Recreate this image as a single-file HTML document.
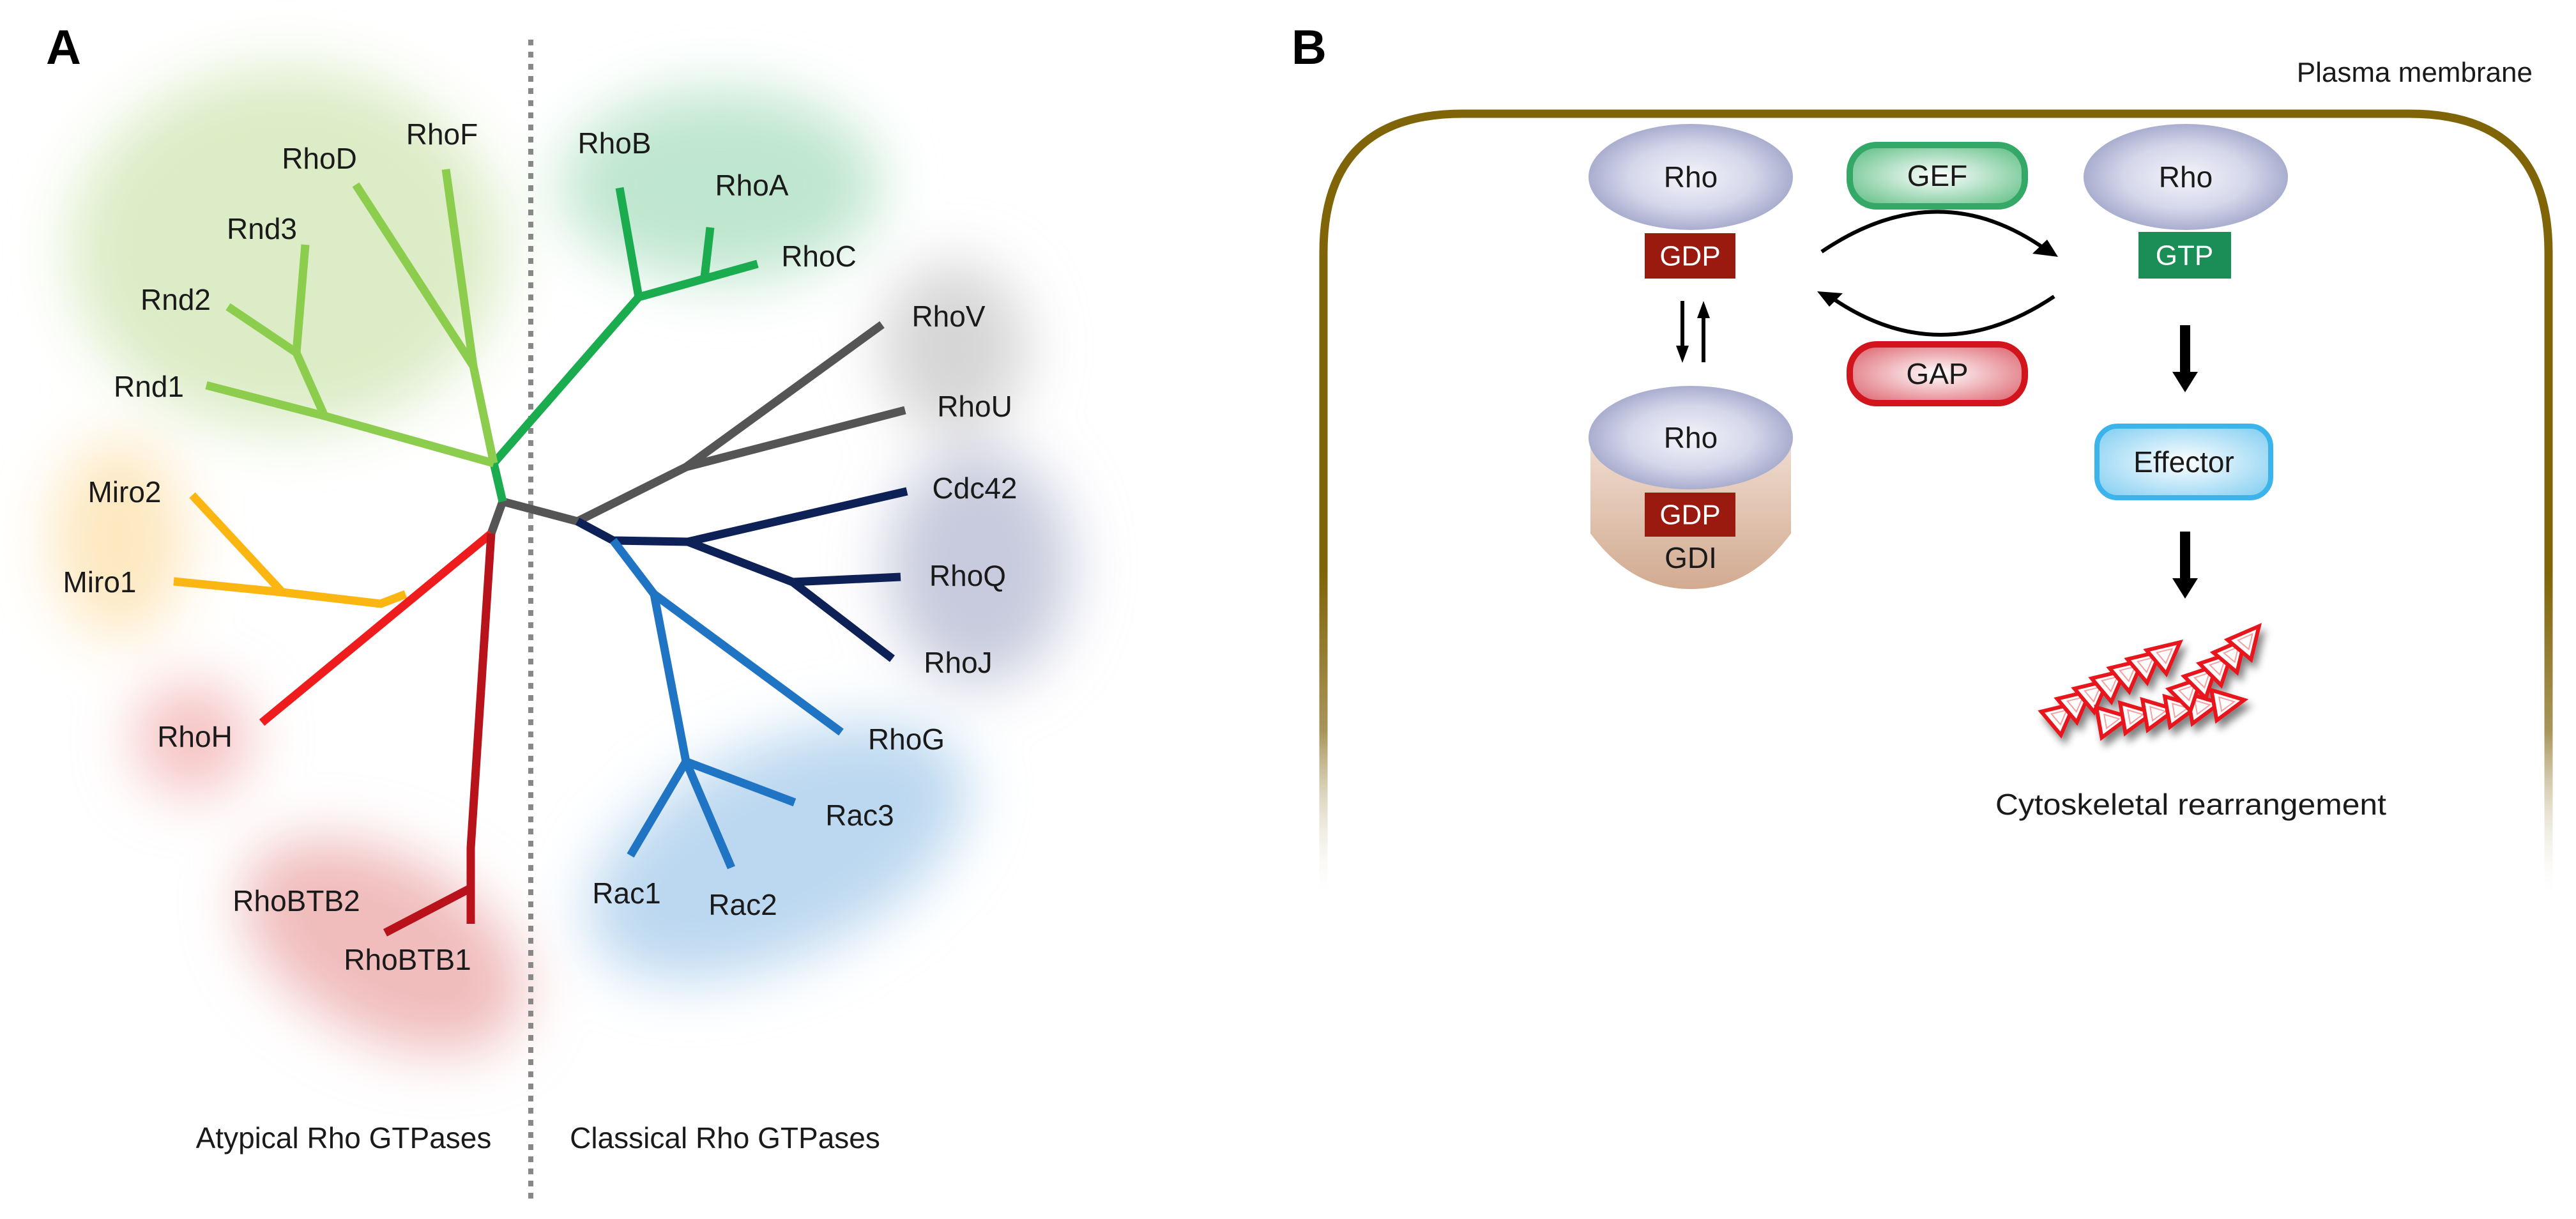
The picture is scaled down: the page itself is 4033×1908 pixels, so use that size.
<!DOCTYPE html>
<html><head><meta charset="utf-8"><style>
html,body{margin:0;padding:0;background:#fff}
svg{display:block}
text{font-family:"Liberation Sans",Arial,sans-serif}
</style></head><body>
<svg width="4033" height="1908" viewBox="0 0 4033 1908" xmlns="http://www.w3.org/2000/svg">
<defs>
<filter id="blur" x="-50%" y="-50%" width="200%" height="200%"><feGaussianBlur stdDeviation="45"/></filter>
<filter id="sh" x="-20%" y="-20%" width="140%" height="160%"><feGaussianBlur in="SourceAlpha" stdDeviation="6"/><feOffset dx="6" dy="10"/><feComponentTransfer><feFuncA type="linear" slope="0.5"/></feComponentTransfer><feMerge><feMergeNode/><feMergeNode in="SourceGraphic"/></feMerge></filter>
<linearGradient id="mem" x1="0" y1="0" x2="0" y2="1908" gradientUnits="userSpaceOnUse">
<stop offset="0" stop-color="#7f6508"/><stop offset="0.47" stop-color="#7f6508"/><stop offset="0.6" stop-color="#a8955a"/><stop offset="0.74" stop-color="#fff" stop-opacity="0"/></linearGradient>
<radialGradient id="rho" cx="0.5" cy="0.5" r="0.5"><stop offset="0" stop-color="#f4f4fa"/><stop offset="0.6" stop-color="#d5d7ea"/><stop offset="1" stop-color="#a9aecf"/></radialGradient>
<radialGradient id="gef" cx="0.5" cy="0.5" r="0.6"><stop offset="0" stop-color="#ffffff"/><stop offset="1" stop-color="#6cc48f"/></radialGradient>
<radialGradient id="gap" cx="0.5" cy="0.5" r="0.6"><stop offset="0" stop-color="#ffffff"/><stop offset="1" stop-color="#e0707a"/></radialGradient>
<radialGradient id="eff" cx="0.5" cy="0.5" r="0.6"><stop offset="0" stop-color="#ffffff"/><stop offset="1" stop-color="#8fd3f3"/></radialGradient>
<linearGradient id="gdi" x1="0" y1="0" x2="0" y2="1"><stop offset="0" stop-color="#efdcd0"/><stop offset="1" stop-color="#d2aa90"/></linearGradient>
<g id="tri"><polygon points="-22,-24 26,0 -22,24" fill="#fff" stroke="#e8141c" stroke-width="6" stroke-linejoin="miter"/><polygon points="-12,-11 10,0 -12,11" fill="none" stroke="#f6a0a0" stroke-width="2"/></g>
</defs>

<!-- Panel A blobs -->
<g filter="url(#blur)">
<ellipse cx="449" cy="391" rx="340" ry="285" fill="#dcecc6"/>
<ellipse cx="1128" cy="290" rx="250" ry="150" fill="#bfe6cf"/>
<ellipse cx="1493" cy="545" rx="115" ry="135" fill="#d6d6d6"/>
<ellipse cx="1532" cy="887" rx="145" ry="185" fill="#c8cbdd"/>
<ellipse cx="1218" cy="1333" rx="320" ry="165" fill="#bcd8f0" transform="rotate(-25 1218 1333)"/>
<ellipse cx="186" cy="844" rx="105" ry="155" fill="#fde8c0"/>
<ellipse cx="301" cy="1156" rx="92" ry="88" fill="#f6c2c2"/>
<ellipse cx="600" cy="1480" rx="240" ry="140" fill="#f0bcbc" transform="rotate(28 600 1480)"/>
</g>

<!-- dotted divider -->
<line x1="831" y1="62" x2="831" y2="1880" stroke="#888" stroke-width="8" stroke-dasharray="9,10"/>

<!-- tree -->
<g fill="none" stroke-width="13" stroke-linecap="butt" stroke-linejoin="round">
<polyline stroke="#555" points="769,835 787,785 904,816 1074,731 1381,508"/>
<line stroke="#555" x1="1074" y1="731" x2="1417" y2="642"/>
<polyline stroke="#1aac4e" points="787,785 773,725 1000,465 970,294"/>
<polyline stroke="#1aac4e" points="1000,465 1186,413"/>
<polyline stroke="#1aac4e" points="1103,434 1112,356"/>
<polyline stroke="#8dcd4e" points="773,725 741,573 698,265"/>
<line stroke="#8dcd4e" x1="741" y1="573" x2="557" y2="289"/>
<polyline stroke="#8dcd4e" points="773,725 508,651 323,603"/>
<polyline stroke="#8dcd4e" points="508,651 464,552 478,383"/>
<line stroke="#8dcd4e" x1="464" y1="552" x2="357" y2="480"/>
<polyline stroke="#fbb612" points="635,930 596,945 442,927 301,775"/>
<line stroke="#fbb612" x1="442" y1="927" x2="272" y2="910"/>
<line stroke="#ee1c1c" x1="769" y1="835" x2="410" y2="1131"/>
<polyline stroke="#b8121b" points="769,835 737,1327 737,1446"/>
<line stroke="#b8121b" x1="737" y1="1390" x2="603" y2="1460"/>
<polyline stroke="#0d2157" points="904,816 960,846 1077,848 1420,769"/>
<polyline stroke="#0d2157" points="1077,848 1241,911 1410,903"/>
<line stroke="#0d2157" x1="1241" y1="911" x2="1397" y2="1031"/>
<polyline stroke="#1f74c4" points="960,846 1024,930 1317,1146"/>
<polyline stroke="#1f74c4" points="1024,930 1074,1192 1244,1256"/>
<polyline stroke="#1f74c4" points="987,1339 1074,1192 1145,1358"/>
</g>

<g font-size="46" fill="#1a1a1a" text-anchor="middle" dominant-baseline="central">
<text x="692" y="210">RhoF</text>
<text x="500" y="248">RhoD</text>
<text x="410" y="358">Rnd3</text>
<text x="275" y="469">Rnd2</text>
<text x="233" y="605">Rnd1</text>
<text x="195" y="770">Miro2</text>
<text x="156" y="911">Miro1</text>
<text x="305" y="1153">RhoH</text>
<text x="464" y="1410">RhoBTB2</text>
<text x="638" y="1502">RhoBTB1</text>
<text x="962" y="224">RhoB</text>
<text x="1177" y="290">RhoA</text>
<text x="1282" y="401">RhoC</text>
<text x="1485" y="495">RhoV</text>
<text x="1526" y="636">RhoU</text>
<text x="1526" y="764">Cdc42</text>
<text x="1515" y="901">RhoQ</text>
<text x="1500" y="1037">RhoJ</text>
<text x="1419" y="1157">RhoG</text>
<text x="1346" y="1276">Rac3</text>
<text x="981" y="1398">Rac1</text>
<text x="1163" y="1416">Rac2</text>
<text x="538" y="1781">Atypical Rho GTPases</text>
<text x="1135" y="1781">Classical Rho GTPases</text>
</g>
<text x="72" y="100" font-size="76" font-weight="bold" fill="#000">A</text>

<!-- Panel B -->
<text x="2022" y="100" font-size="76" font-weight="bold" fill="#000">B</text>
<text x="3965" y="128" font-size="44" fill="#1a1a1a" text-anchor="end">Plasma membrane</text>
<path d="M2072,1420 L2072,395 Q2072,178 2290,178 L3772,178 Q3990,178 3990,395 L3990,1420" fill="none" stroke="url(#mem)" stroke-width="13"/>

<!-- GDI -->
<path d="M2490,690 L2804,690 L2804,835 Q2740,922 2647,922 Q2554,922 2490,835 Z" fill="url(#gdi)"/>
<text x="2647" y="873" font-size="46" fill="#1a1a1a" text-anchor="middle" dominant-baseline="central">GDI</text>

<ellipse cx="2647" cy="277" rx="160" ry="83" fill="url(#rho)"/>
<ellipse cx="3422" cy="277" rx="160" ry="83" fill="url(#rho)"/>
<ellipse cx="2647" cy="685" rx="160" ry="81" fill="url(#rho)"/>
<g font-size="46" text-anchor="middle" dominant-baseline="central">
<text x="2647" y="277" fill="#1a1a1a">Rho</text>
<text x="3422" y="277" fill="#1a1a1a">Rho</text>
<text x="2647" y="685" fill="#1a1a1a">Rho</text>
</g>
<rect x="2575" y="365" width="142" height="71" fill="#9b1a0f"/>
<rect x="3348" y="363" width="145" height="73" fill="#1b8d57"/>
<rect x="2575" y="771" width="142" height="69" fill="#9b1a0f"/>
<g font-size="44" text-anchor="middle" dominant-baseline="central" fill="#fff">
<text x="2646" y="401">GDP</text>
<text x="3420" y="400">GTP</text>
<text x="2646" y="806">GDP</text>
</g>

<rect x="2896" y="227" width="274" height="96" rx="42" fill="url(#gef)" stroke="#34a866" stroke-width="10"/>
<rect x="2896" y="539" width="274" height="92" rx="42" fill="url(#gap)" stroke="#d2141c" stroke-width="10"/>
<rect x="3283" y="667" width="272" height="112" rx="32" fill="url(#eff)" stroke="#3ab4ea" stroke-width="8"/>
<g font-size="46" text-anchor="middle" dominant-baseline="central" fill="#1a1a1a">
<text x="3033" y="275">GEF</text>
<text x="3033" y="585">GAP</text>
<text x="3419" y="723">Effector</text>
</g>

<!-- cycle arcs -->
<g fill="none" stroke="#000" stroke-width="6">
<path d="M2852,394 Q3035,270 3205,392"/>
<path d="M3216,464 Q3035,585 2862,462"/>
</g>
<polygon points="3222,402 3182,397 3205,375" fill="#000"/>
<polygon points="2845,456 2885,459 2864,480" fill="#000"/>

<!-- double arrows -->
<g fill="#000">
<rect x="2631" y="471" width="6" height="72"/><polygon points="2624,541 2644,541 2634,568"/>
<rect x="2664" y="496" width="6" height="71"/><polygon points="2657,498 2677,498 2667,471"/>
<rect x="3413" y="509" width="16" height="75"/><polygon points="3401,582 3441,582 3421,614"/>
<rect x="3413" y="832" width="16" height="75"/><polygon points="3401,905 3441,905 3421,937"/>
</g>

<!-- cytoskeleton -->
<g filter="url(#sh)">
<use href="#tri" transform="translate(3228,1118) rotate(-40)"/>
<use href="#tri" transform="translate(3253,1098) rotate(-40)"/>
<use href="#tri" transform="translate(3280,1082) rotate(-40)"/>
<use href="#tri" transform="translate(3307,1066) rotate(-40)"/>
<use href="#tri" transform="translate(3335,1050) rotate(-40)"/>
<use href="#tri" transform="translate(3363,1036) rotate(-40)"/>
<use href="#tri" transform="translate(3393,1022) rotate(-40)"/>
<use href="#tri" transform="translate(3308,1127) rotate(-10)"/>
<use href="#tri" transform="translate(3345,1120) rotate(-10)"/>
<use href="#tri" transform="translate(3380,1115) rotate(-10)"/>
<use href="#tri" transform="translate(3415,1110) rotate(-10)"/>
<use href="#tri" transform="translate(3450,1105) rotate(-10)"/>
<use href="#tri" transform="translate(3488,1100) rotate(-10)"/>
<use href="#tri" transform="translate(3428,1080) rotate(-45)"/>
<use href="#tri" transform="translate(3452,1060) rotate(-45)"/>
<use href="#tri" transform="translate(3476,1040) rotate(-45)"/>
<use href="#tri" transform="translate(3498,1020) rotate(-50)"/>
<use href="#tri" transform="translate(3520,1000) rotate(-50)"/>
</g>
<text x="3430" y="1259" font-size="46" fill="#1a1a1a" text-anchor="middle" dominant-baseline="central" textLength="612" lengthAdjust="spacingAndGlyphs">Cytoskeletal rearrangement</text>
</svg>
</body></html>
